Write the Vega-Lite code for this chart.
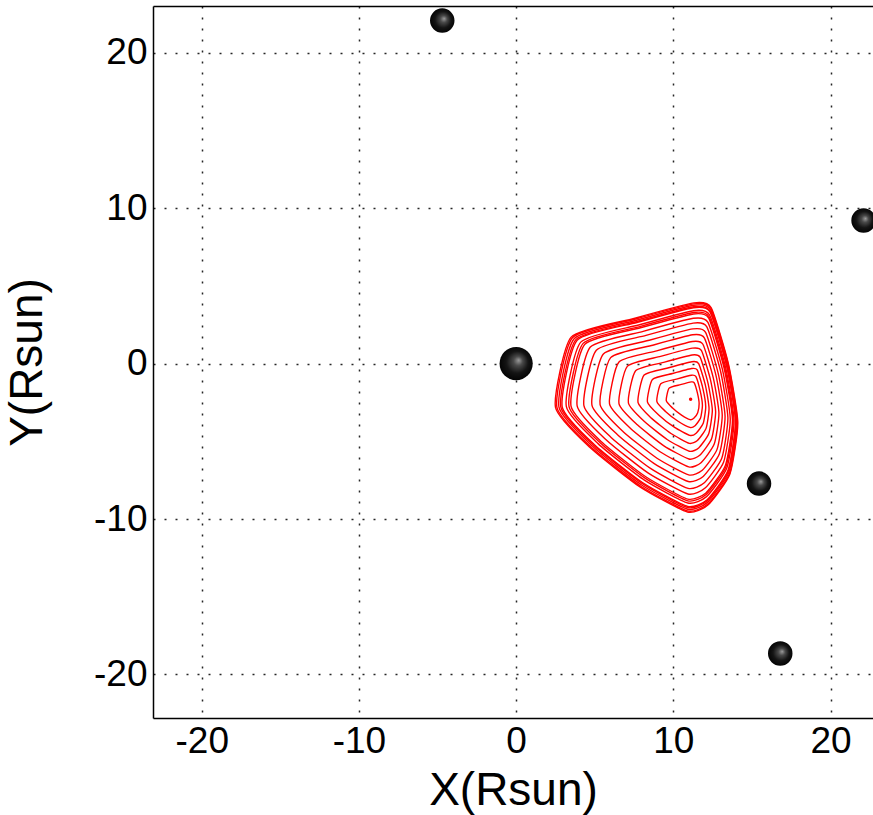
{
  "$schema": "https://vega.github.io/schema/vega-lite/v6.json",
  "autosize": "none",
  "padding": {"left": 153, "top": 6, "right": 0, "bottom": 97},
  "width": 720,
  "height": 712,
  "background": "white",
  "config": {
    "view": {"stroke": null},
    "font": "Liberation Sans",
    "axis": {
      "labelFont": "Liberation Sans",
      "titleFont": "Liberation Sans",
      "labelFontSize": 37,
      "titleFontSize": 46,
      "titleFontWeight": "normal",
      "labelColor": "#000",
      "titleColor": "#000",
      "labelExpr": "toString(datum.value)",
      "ticks": false,
      "domainColor": "#000",
      "domainWidth": 1.5,
      "gridColor": "#000",
      "gridDash": [2, 9],
      "gridWidth": 1.5,
      "gridOpacity": 0.85
    }
  },
  "datasets": {
    "orbits": [
      {"loop": 1, "i": 1, "x": 2.5, "y": -2.8}, {"loop": 1, "i": 2, "x": 3.5, "y": 1.7}, {"loop": 1, "i": 3, "x": 7.5, "y": 2.9}, {"loop": 1, "i": 4, "x": 11.3, "y": 3.9}, {"loop": 1, "i": 5, "x": 12.4, "y": 3.6}, {"loop": 1, "i": 6, "x": 13.5, "y": 0.0}, {"loop": 1, "i": 7, "x": 14.1, "y": -3.8}, {"loop": 1, "i": 8, "x": 13.6, "y": -7.1}, {"loop": 1, "i": 9, "x": 12.2, "y": -9.1}, {"loop": 1, "i": 10, "x": 10.9, "y": -9.55}, {"loop": 1, "i": 11, "x": 7.9, "y": -7.95}, {"loop": 1, "i": 12, "x": 4.7, "y": -5.4},
      {"loop": 17, "i": 1, "x": 2.59, "y": -2.8}, {"loop": 17, "i": 2, "x": 3.58, "y": 1.66}, {"loop": 17, "i": 3, "x": 7.54, "y": 2.85}, {"loop": 17, "i": 4, "x": 11.3, "y": 3.84}, {"loop": 17, "i": 5, "x": 12.39, "y": 3.54}, {"loop": 17, "i": 6, "x": 13.48, "y": -0.02}, {"loop": 17, "i": 7, "x": 14.07, "y": -3.79}, {"loop": 17, "i": 8, "x": 13.58, "y": -7.05}, {"loop": 17, "i": 9, "x": 12.19, "y": -9.03}, {"loop": 17, "i": 10, "x": 10.9, "y": -9.48}, {"loop": 17, "i": 11, "x": 7.93, "y": -7.89}, {"loop": 17, "i": 12, "x": 4.76, "y": -5.37},
      {"loop": 2, "i": 1, "x": 2.72, "y": -2.79}, {"loop": 2, "i": 2, "x": 3.69, "y": 1.6}, {"loop": 2, "i": 3, "x": 7.59, "y": 2.77}, {"loop": 2, "i": 4, "x": 11.3, "y": 3.75}, {"loop": 2, "i": 5, "x": 12.37, "y": 3.45}, {"loop": 2, "i": 6, "x": 13.44, "y": -0.06}, {"loop": 2, "i": 7, "x": 14.03, "y": -3.76}, {"loop": 2, "i": 8, "x": 13.54, "y": -6.98}, {"loop": 2, "i": 9, "x": 12.17, "y": -8.93}, {"loop": 2, "i": 10, "x": 10.91, "y": -9.37}, {"loop": 2, "i": 11, "x": 7.98, "y": -7.81}, {"loop": 2, "i": 12, "x": 4.86, "y": -5.32},
      {"loop": 18, "i": 1, "x": 2.84, "y": -2.78}, {"loop": 18, "i": 2, "x": 3.8, "y": 1.54}, {"loop": 18, "i": 3, "x": 7.64, "y": 2.69}, {"loop": 18, "i": 4, "x": 11.29, "y": 3.65}, {"loop": 18, "i": 5, "x": 12.35, "y": 3.36}, {"loop": 18, "i": 6, "x": 13.4, "y": -0.09}, {"loop": 18, "i": 7, "x": 13.98, "y": -3.74}, {"loop": 18, "i": 8, "x": 13.5, "y": -6.91}, {"loop": 18, "i": 9, "x": 12.16, "y": -8.83}, {"loop": 18, "i": 10, "x": 10.91, "y": -9.26}, {"loop": 18, "i": 11, "x": 8.03, "y": -7.72}, {"loop": 18, "i": 12, "x": 4.96, "y": -5.28},
      {"loop": 3, "i": 1, "x": 2.93, "y": -2.78}, {"loop": 3, "i": 2, "x": 3.88, "y": 1.5}, {"loop": 3, "i": 3, "x": 7.68, "y": 2.64}, {"loop": 3, "i": 4, "x": 11.29, "y": 3.59}, {"loop": 3, "i": 5, "x": 12.34, "y": 3.31}, {"loop": 3, "i": 6, "x": 13.38, "y": -0.12}, {"loop": 3, "i": 7, "x": 13.95, "y": -3.73}, {"loop": 3, "i": 8, "x": 13.48, "y": -6.86}, {"loop": 3, "i": 9, "x": 12.15, "y": -8.76}, {"loop": 3, "i": 10, "x": 10.91, "y": -9.19}, {"loop": 3, "i": 11, "x": 8.06, "y": -7.67}, {"loop": 3, "i": 12, "x": 5.02, "y": -5.25},
      {"loop": 4, "i": 1, "x": 3.19, "y": -2.76}, {"loop": 4, "i": 2, "x": 4.11, "y": 1.38}, {"loop": 4, "i": 3, "x": 7.79, "y": 2.48}, {"loop": 4, "i": 4, "x": 11.28, "y": 3.4}, {"loop": 4, "i": 5, "x": 12.3, "y": 3.13}, {"loop": 4, "i": 6, "x": 13.31, "y": -0.18}, {"loop": 4, "i": 7, "x": 13.86, "y": -3.68}, {"loop": 4, "i": 8, "x": 13.4, "y": -6.72}, {"loop": 4, "i": 9, "x": 12.11, "y": -8.56}, {"loop": 4, "i": 10, "x": 10.92, "y": -8.97}, {"loop": 4, "i": 11, "x": 8.16, "y": -7.5}, {"loop": 4, "i": 12, "x": 5.21, "y": -5.15},
      {"loop": 19, "i": 1, "x": 3.36, "y": -2.75}, {"loop": 19, "i": 2, "x": 4.26, "y": 1.3}, {"loop": 19, "i": 3, "x": 7.86, "y": 2.38}, {"loop": 19, "i": 4, "x": 11.28, "y": 3.28}, {"loop": 19, "i": 5, "x": 12.27, "y": 3.01}, {"loop": 19, "i": 6, "x": 13.26, "y": -0.23}, {"loop": 19, "i": 7, "x": 13.8, "y": -3.65}, {"loop": 19, "i": 8, "x": 13.35, "y": -6.62}, {"loop": 19, "i": 9, "x": 12.09, "y": -8.42}, {"loop": 19, "i": 10, "x": 10.92, "y": -8.83}, {"loop": 19, "i": 11, "x": 8.22, "y": -7.39}, {"loop": 19, "i": 12, "x": 5.34, "y": -5.09},
      {"loop": 5, "i": 1, "x": 3.49, "y": -2.74}, {"loop": 5, "i": 2, "x": 4.37, "y": 1.24}, {"loop": 5, "i": 3, "x": 7.91, "y": 2.3}, {"loop": 5, "i": 4, "x": 11.28, "y": 3.19}, {"loop": 5, "i": 5, "x": 12.25, "y": 2.92}, {"loop": 5, "i": 6, "x": 13.22, "y": -0.26}, {"loop": 5, "i": 7, "x": 13.76, "y": -3.63}, {"loop": 5, "i": 8, "x": 13.31, "y": -6.55}, {"loop": 5, "i": 9, "x": 12.07, "y": -8.32}, {"loop": 5, "i": 10, "x": 10.92, "y": -8.72}, {"loop": 5, "i": 11, "x": 8.27, "y": -7.3}, {"loop": 5, "i": 12, "x": 5.44, "y": -5.04},
      {"loop": 6, "i": 1, "x": 3.88, "y": -2.72}, {"loop": 6, "i": 2, "x": 4.72, "y": 1.06}, {"loop": 6, "i": 3, "x": 8.08, "y": 2.07}, {"loop": 6, "i": 4, "x": 11.27, "y": 2.91}, {"loop": 6, "i": 5, "x": 12.19, "y": 2.66}, {"loop": 6, "i": 6, "x": 13.12, "y": -0.37}, {"loop": 6, "i": 7, "x": 13.62, "y": -3.56}, {"loop": 6, "i": 8, "x": 13.2, "y": -6.33}, {"loop": 6, "i": 9, "x": 12.02, "y": -8.01}, {"loop": 6, "i": 10, "x": 10.93, "y": -8.39}, {"loop": 6, "i": 11, "x": 8.41, "y": -7.05}, {"loop": 6, "i": 12, "x": 5.72, "y": -4.9},
      {"loop": 7, "i": 1, "x": 4.31, "y": -2.7}, {"loop": 7, "i": 2, "x": 5.1, "y": 0.86}, {"loop": 7, "i": 3, "x": 8.26, "y": 1.81}, {"loop": 7, "i": 4, "x": 11.26, "y": 2.6}, {"loop": 7, "i": 5, "x": 12.13, "y": 2.36}, {"loop": 7, "i": 6, "x": 13.0, "y": -0.48}, {"loop": 7, "i": 7, "x": 13.47, "y": -3.49}, {"loop": 7, "i": 8, "x": 13.08, "y": -6.09}, {"loop": 7, "i": 9, "x": 11.97, "y": -7.67}, {"loop": 7, "i": 10, "x": 10.94, "y": -8.03}, {"loop": 7, "i": 11, "x": 8.57, "y": -6.76}, {"loop": 7, "i": 12, "x": 6.04, "y": -4.75},
      {"loop": 8, "i": 1, "x": 4.82, "y": -2.67}, {"loop": 8, "i": 2, "x": 5.55, "y": 0.62}, {"loop": 8, "i": 3, "x": 8.47, "y": 1.5}, {"loop": 8, "i": 4, "x": 11.25, "y": 2.23}, {"loop": 8, "i": 5, "x": 12.05, "y": 2.01}, {"loop": 8, "i": 6, "x": 12.85, "y": -0.62}, {"loop": 8, "i": 7, "x": 13.29, "y": -3.4}, {"loop": 8, "i": 8, "x": 12.93, "y": -5.8}, {"loop": 8, "i": 9, "x": 11.9, "y": -7.26}, {"loop": 8, "i": 10, "x": 10.95, "y": -7.59}, {"loop": 8, "i": 11, "x": 8.76, "y": -6.42}, {"loop": 8, "i": 12, "x": 6.43, "y": -4.56},
      {"loop": 9, "i": 1, "x": 5.34, "y": -2.64}, {"loop": 9, "i": 2, "x": 6.01, "y": 0.38}, {"loop": 9, "i": 3, "x": 8.69, "y": 1.18}, {"loop": 9, "i": 4, "x": 11.23, "y": 1.85}, {"loop": 9, "i": 5, "x": 11.97, "y": 1.65}, {"loop": 9, "i": 6, "x": 12.71, "y": -0.76}, {"loop": 9, "i": 7, "x": 13.11, "y": -3.31}, {"loop": 9, "i": 8, "x": 12.78, "y": -5.52}, {"loop": 9, "i": 9, "x": 11.84, "y": -6.86}, {"loop": 9, "i": 10, "x": 10.97, "y": -7.16}, {"loop": 9, "i": 11, "x": 8.96, "y": -6.09}, {"loop": 9, "i": 12, "x": 6.81, "y": -4.38},
      {"loop": 10, "i": 1, "x": 5.94, "y": -2.6}, {"loop": 10, "i": 2, "x": 6.54, "y": 0.1}, {"loop": 10, "i": 3, "x": 8.94, "y": 0.82}, {"loop": 10, "i": 4, "x": 11.22, "y": 1.42}, {"loop": 10, "i": 5, "x": 11.88, "y": 1.24}, {"loop": 10, "i": 6, "x": 12.54, "y": -0.92}, {"loop": 10, "i": 7, "x": 12.9, "y": -3.2}, {"loop": 10, "i": 8, "x": 12.6, "y": -5.18}, {"loop": 10, "i": 9, "x": 11.76, "y": -6.38}, {"loop": 10, "i": 10, "x": 10.98, "y": -6.65}, {"loop": 10, "i": 11, "x": 9.18, "y": -5.69}, {"loop": 10, "i": 12, "x": 7.26, "y": -4.16},
      {"loop": 11, "i": 1, "x": 6.54, "y": -2.57}, {"loop": 11, "i": 2, "x": 7.07, "y": -0.18}, {"loop": 11, "i": 3, "x": 9.19, "y": 0.46}, {"loop": 11, "i": 4, "x": 11.21, "y": 0.99}, {"loop": 11, "i": 5, "x": 11.79, "y": 0.83}, {"loop": 11, "i": 6, "x": 12.37, "y": -1.08}, {"loop": 11, "i": 7, "x": 12.69, "y": -3.1}, {"loop": 11, "i": 8, "x": 12.43, "y": -4.84}, {"loop": 11, "i": 9, "x": 11.68, "y": -5.9}, {"loop": 11, "i": 10, "x": 10.99, "y": -6.14}, {"loop": 11, "i": 11, "x": 9.4, "y": -5.29}, {"loop": 11, "i": 12, "x": 7.71, "y": -3.94},
      {"loop": 12, "i": 1, "x": 7.14, "y": -2.53}, {"loop": 12, "i": 2, "x": 7.6, "y": -0.46}, {"loop": 12, "i": 3, "x": 9.44, "y": 0.09}, {"loop": 12, "i": 4, "x": 11.19, "y": 0.55}, {"loop": 12, "i": 5, "x": 11.7, "y": 0.41}, {"loop": 12, "i": 6, "x": 12.2, "y": -1.24}, {"loop": 12, "i": 7, "x": 12.48, "y": -2.99}, {"loop": 12, "i": 8, "x": 12.25, "y": -4.51}, {"loop": 12, "i": 9, "x": 11.61, "y": -5.43}, {"loop": 12, "i": 10, "x": 11.01, "y": -5.64}, {"loop": 12, "i": 11, "x": 9.63, "y": -4.9}, {"loop": 12, "i": 12, "x": 8.16, "y": -3.73},
      {"loop": 13, "i": 1, "x": 7.75, "y": -2.5}, {"loop": 13, "i": 2, "x": 8.14, "y": -0.74}, {"loop": 13, "i": 3, "x": 9.7, "y": -0.27}, {"loop": 13, "i": 4, "x": 11.18, "y": 0.12}, {"loop": 13, "i": 5, "x": 11.61, "y": 0.0}, {"loop": 13, "i": 6, "x": 12.04, "y": -1.4}, {"loop": 13, "i": 7, "x": 12.27, "y": -2.89}, {"loop": 13, "i": 8, "x": 12.08, "y": -4.17}, {"loop": 13, "i": 9, "x": 11.53, "y": -4.95}, {"loop": 13, "i": 10, "x": 11.02, "y": -5.13}, {"loop": 13, "i": 11, "x": 9.85, "y": -4.5}, {"loop": 13, "i": 12, "x": 8.6, "y": -3.51},
      {"loop": 14, "i": 1, "x": 8.35, "y": -2.46}, {"loop": 14, "i": 2, "x": 8.67, "y": -1.02}, {"loop": 14, "i": 3, "x": 9.95, "y": -0.64}, {"loop": 14, "i": 4, "x": 11.16, "y": -0.32}, {"loop": 14, "i": 5, "x": 11.52, "y": -0.41}, {"loop": 14, "i": 6, "x": 11.87, "y": -1.56}, {"loop": 14, "i": 7, "x": 12.06, "y": -2.78}, {"loop": 14, "i": 8, "x": 11.9, "y": -3.84}, {"loop": 14, "i": 9, "x": 11.45, "y": -4.48}, {"loop": 14, "i": 10, "x": 11.04, "y": -4.62}, {"loop": 14, "i": 11, "x": 10.08, "y": -4.11}, {"loop": 14, "i": 12, "x": 9.05, "y": -3.29},
      {"loop": 15, "i": 1, "x": 8.95, "y": -2.43}, {"loop": 15, "i": 2, "x": 9.2, "y": -1.3}, {"loop": 15, "i": 3, "x": 10.2, "y": -1.0}, {"loop": 15, "i": 4, "x": 11.15, "y": -0.75}, {"loop": 15, "i": 5, "x": 11.43, "y": -0.83}, {"loop": 15, "i": 6, "x": 11.7, "y": -1.73}, {"loop": 15, "i": 7, "x": 11.85, "y": -2.68}, {"loop": 15, "i": 8, "x": 11.73, "y": -3.5}, {"loop": 15, "i": 9, "x": 11.38, "y": -4.0}, {"loop": 15, "i": 10, "x": 11.05, "y": -4.11}, {"loop": 15, "i": 11, "x": 10.3, "y": -3.71}, {"loop": 15, "i": 12, "x": 9.5, "y": -3.08},
      {"loop": 16, "i": 1, "x": 9.55, "y": -2.39}, {"loop": 16, "i": 2, "x": 9.73, "y": -1.58}, {"loop": 16, "i": 3, "x": 10.45, "y": -1.36}, {"loop": 16, "i": 4, "x": 11.14, "y": -1.18}, {"loop": 16, "i": 5, "x": 11.33, "y": -1.24}, {"loop": 16, "i": 6, "x": 11.53, "y": -1.89}, {"loop": 16, "i": 7, "x": 11.64, "y": -2.57}, {"loop": 16, "i": 8, "x": 11.55, "y": -3.16}, {"loop": 16, "i": 9, "x": 11.3, "y": -3.52}, {"loop": 16, "i": 10, "x": 11.06, "y": -3.61}, {"loop": 16, "i": 11, "x": 10.52, "y": -3.32}, {"loop": 16, "i": 12, "x": 9.95, "y": -2.86}
    ],
    "bodies": [
      {"body": "Sun", "kind": "sun", "x": 0, "y": 0},
      {"body": "A", "kind": "planet", "x": -4.7, "y": 22.06},
      {"body": "B", "kind": "planet", "x": 22.1, "y": 9.2},
      {"body": "C", "kind": "planet", "x": 15.45, "y": -7.72},
      {"body": "D", "kind": "planet", "x": 16.8, "y": -18.65}
    ],
    "core": [{"x": 11.1, "y": -2.3}]
  },
  "layer": [
    {
      "data": {"name": "orbits"},
      "mark": {"type": "line", "interpolate": "cardinal-closed", "tension": 0.45, "color": "#ff0000", "strokeWidth": 1.4, "clip": true},
      "encoding": {
        "x": {
          "field": "x", "type": "quantitative",
          "scale": {"domain": [-23.1, 22.7], "nice": false, "zero": false},
          "axis": {"orient": "bottom", "values": [-20, -10, 0, 10, 20], "title": "X(Rsun)", "labelPadding": 5, "titlePadding": 9, "domain": true}
        },
        "y": {
          "field": "y", "type": "quantitative",
          "scale": {"domain": [-22.8, 23], "nice": false, "zero": false},
          "axis": {"orient": "left", "values": [-20, -10, 0, 10, 20], "title": "Y(Rsun)", "labelPadding": 6, "titlePadding": 42, "domain": true}
        },
        "detail": {"field": "loop", "type": "nominal"},
        "order": {"field": "i", "type": "quantitative"}
      }
    },
    {
      "data": {"name": "core"},
      "mark": {"type": "point", "filled": true, "color": "#ff0000", "size": 12, "opacity": 1},
      "encoding": {
        "x": {"field": "x", "type": "quantitative", "axis": null},
        "y": {"field": "y", "type": "quantitative"}
      }
    },
    {
      "data": {"name": "bodies"},
      "transform": [{"filter": "datum.kind === 'sun'"}],
      "mark": {
        "type": "point", "shape": "circle", "filled": true, "size": 1100, "opacity": 1, "strokeWidth": 0,
        "fill": {"gradient": "radial", "x1": 0.58, "y1": 0.4, "r1": 0, "x2": 0.5, "y2": 0.5, "r2": 0.55,
          "stops": [{"offset": 0, "color": "#9c9c9c"}, {"offset": 0.25, "color": "#4a4a4a"}, {"offset": 0.6, "color": "#141414"}, {"offset": 1, "color": "#000000"}]}
      },
      "encoding": {
        "x": {"field": "x", "type": "quantitative", "axis": null},
        "y": {"field": "y", "type": "quantitative"}
      }
    },
    {
      "data": {"name": "bodies"},
      "transform": [{"filter": "datum.kind === 'planet'"}],
      "mark": {
        "type": "point", "shape": "circle", "filled": true, "size": 600, "opacity": 1, "strokeWidth": 0,
        "fill": {"gradient": "radial", "x1": 0.58, "y1": 0.42, "r1": 0, "x2": 0.5, "y2": 0.5, "r2": 0.55,
          "stops": [{"offset": 0, "color": "#9c9c9c"}, {"offset": 0.25, "color": "#4a4a4a"}, {"offset": 0.6, "color": "#141414"}, {"offset": 1, "color": "#000000"}]}
      },
      "encoding": {
        "x": {"field": "x", "type": "quantitative", "axis": {"orient": "top", "labels": false, "grid": false, "ticks": false, "title": null, "domain": true}},
        "y": {"field": "y", "type": "quantitative"}
      }
    }
  ],
  "resolve": {"axis": {"x": "independent"}}
}
